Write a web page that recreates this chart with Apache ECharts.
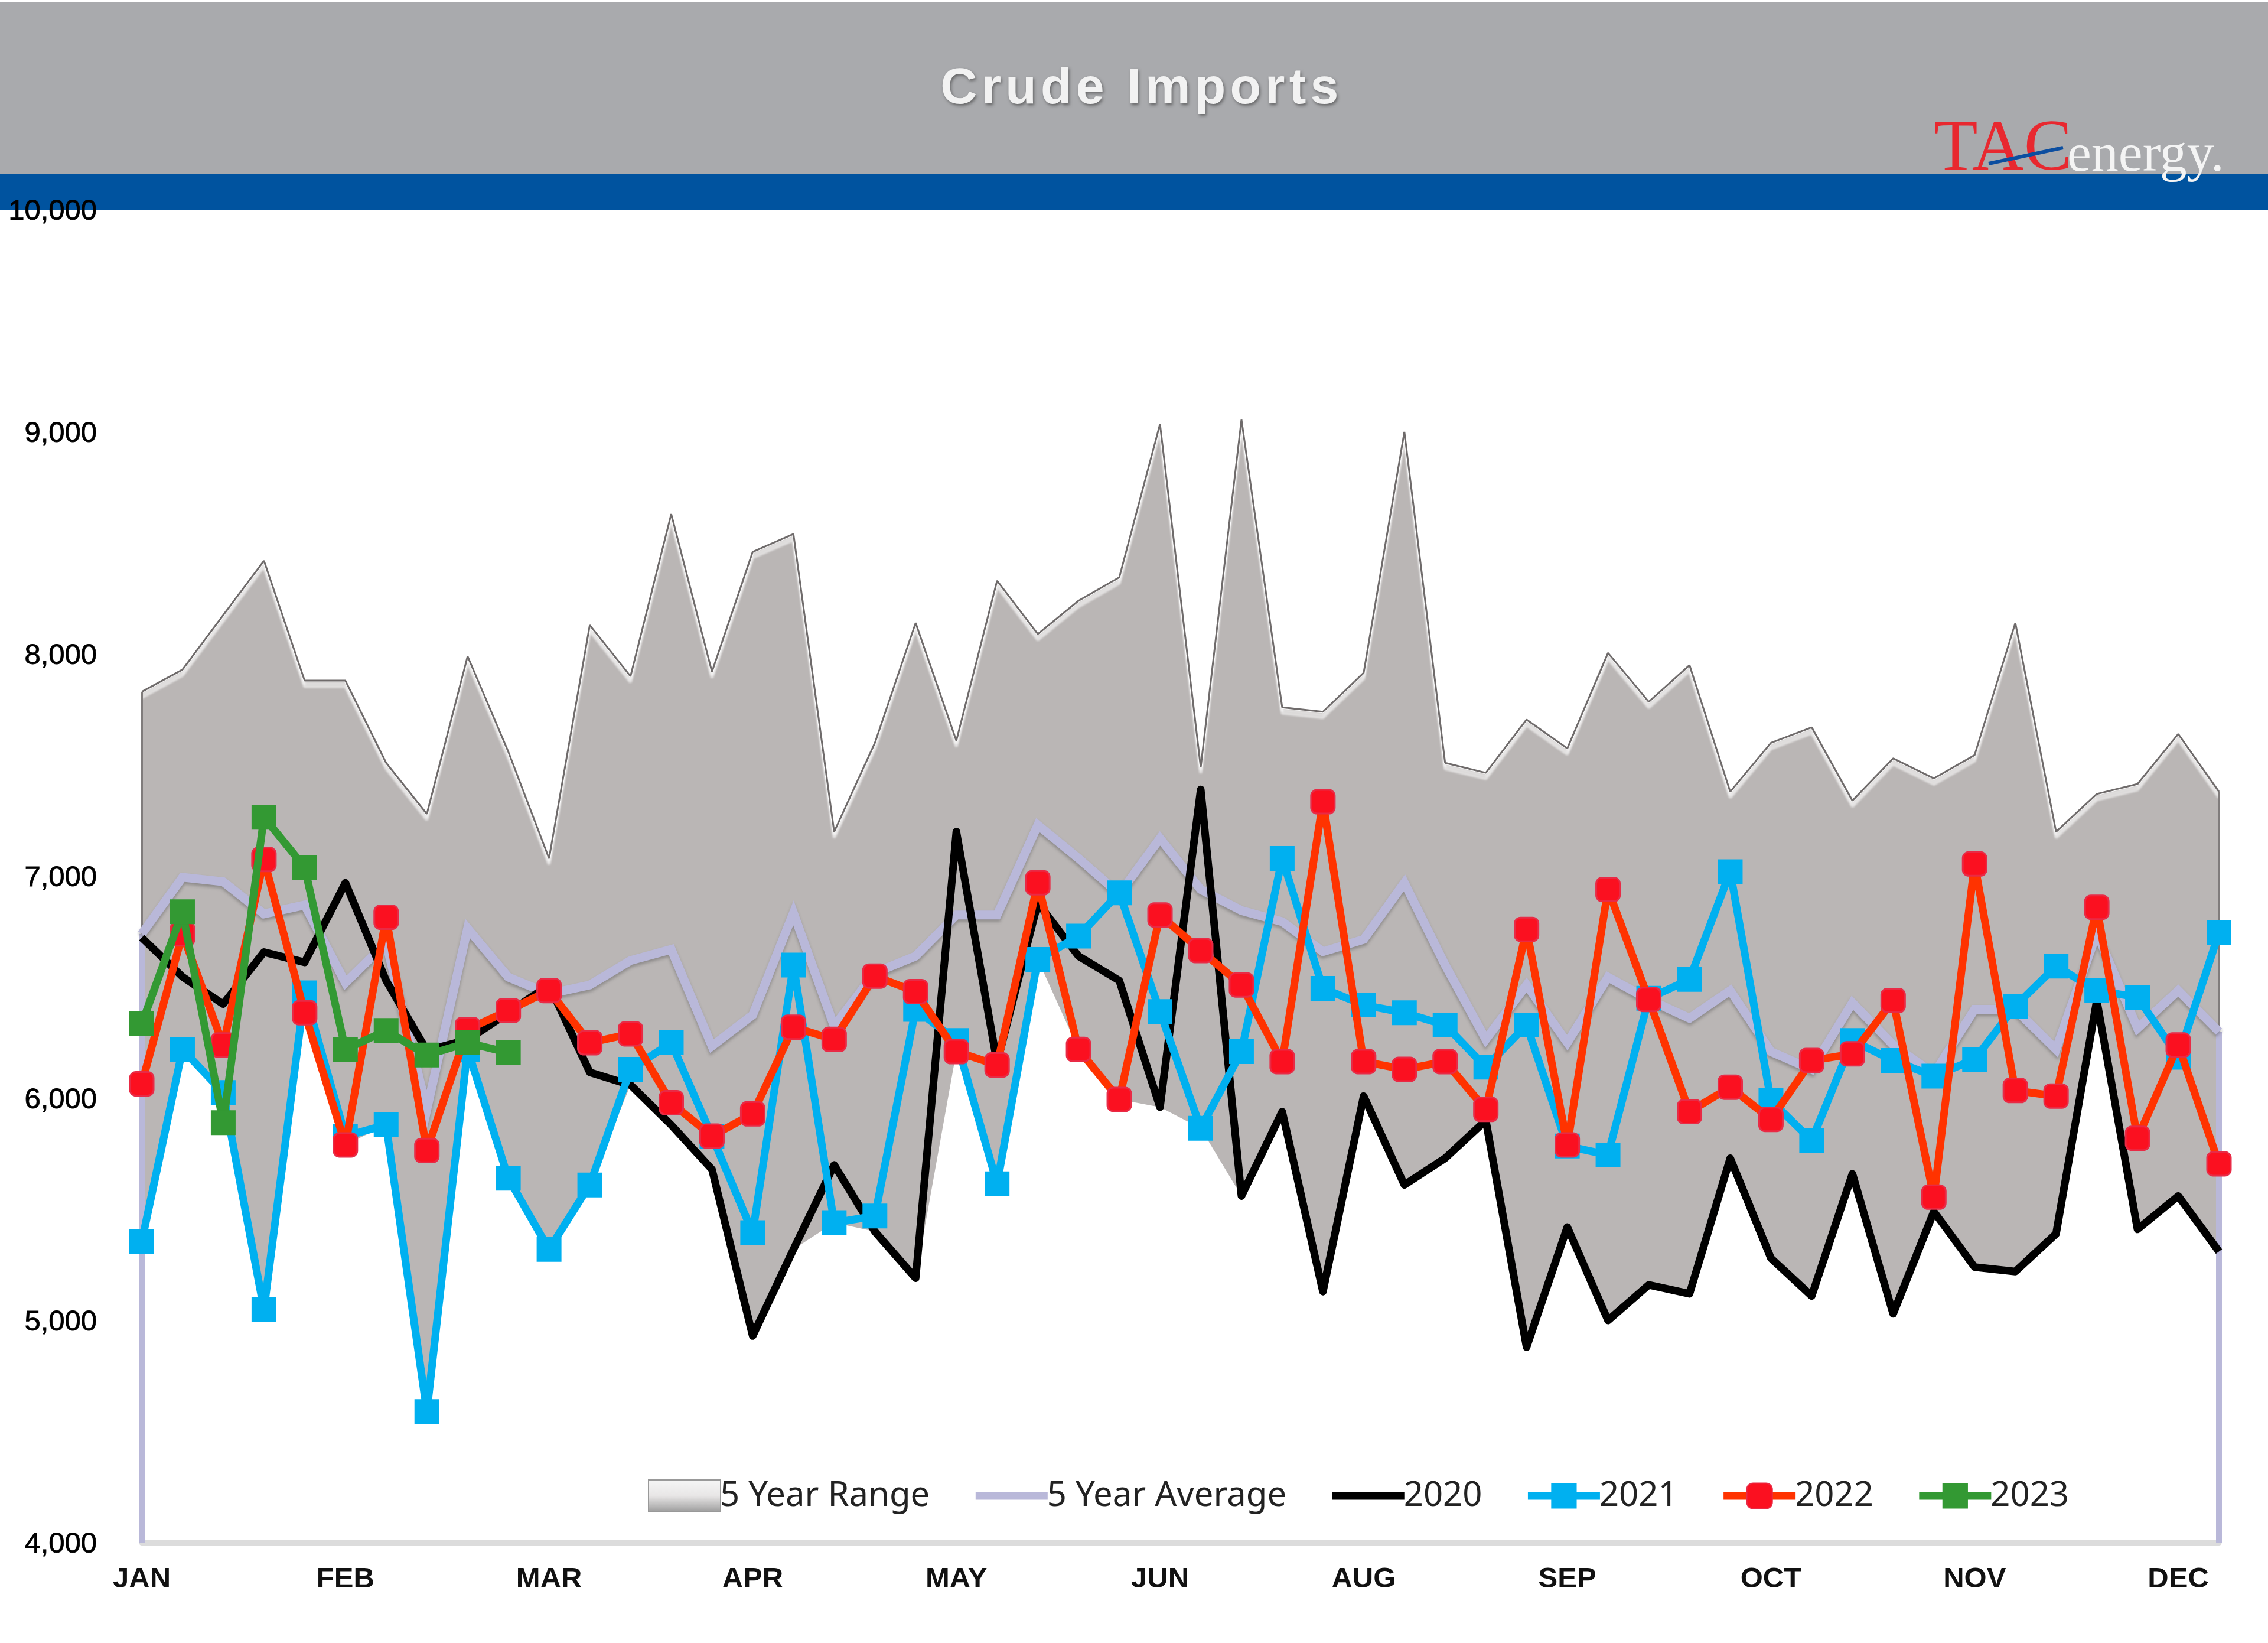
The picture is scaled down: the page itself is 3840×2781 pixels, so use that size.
<!DOCTYPE html>
<html>
<head>
<meta charset="utf-8">
<title>Crude Imports</title>
<style>
  html, body { margin: 0; padding: 0; background: #fff; }
  #wrap { position: relative; width: 3840px; height: 2781px; }
  #chart { width: 3840px; height: 2781px; }
  #head {
    position: absolute; left: 0; width: 3840px; top: 96px; text-align: center; text-indent: 26px;
    font: bold 86px "Liberation Sans"; letter-spacing: 7.2px; color: #f2f2f2;
    text-shadow: 2px 3px 5px rgba(60,60,60,.6);
  }
</style>
<script src="https://cdn.jsdelivr.net/npm/echarts@6/dist/echarts.min.js"></script>
</head>
<body>
<div id="wrap">
  <div id="chart"></div>
  <div id="head">Crude Imports</div>
</div>
<script>
// weekly labels, only every 5th week carries a month name
const months = ['JAN', 'FEB', 'MAR', 'APR', 'MAY', 'JUN', 'AUG', 'SEP', 'OCT', 'NOV', 'DEC'];
const weeks = [];
for (let i = 0; i < 52; i++) {
  weeks.push(i % 5 === 0 ? months[i / 5] : 'w' + (i + 1));
}

const rangeHigh = [7830, 7930, 8175, 8420, 7880, 7880, 7510, 7280, 7990, 7560, 7080, 8130, 7900, 8630, 7920, 8460, 8540, 7200,
  7600, 8140, 7610, 8330, 8090, 8240, 8345, 9035, 7490, 9055, 7760, 7740, 7915, 9000, 7510, 7465, 7705, 7575, 8005, 7785,
  7950, 7380, 7600, 7670, 7340, 7530, 7440, 7545, 8140, 7200, 7370, 7415, 7640, 7380];
const rangeLow = [5355, 6220, 6026, 5050, 6385, 5790, 5880, 4590, 6220, 5640, 5320, 5610, 6060, 5880, 5680, 4930, 5320, 5440,
  5400, 5190, 6210, 5615, 6625, 6220, 5995, 5960, 5865, 5560, 5940, 5130, 6010, 5610, 5730, 5900, 4880, 5420, 5000, 5160,
  5120, 5730, 5280, 5110, 5660, 5030, 5490, 5240, 5220, 5390, 6440, 5410, 5560, 5310];
const avg5y = [6740, 6995, 6975, 6830, 6870, 6520, 6700, 5950, 6765, 6545, 6470, 6510, 6620, 6670, 6235, 6375, 6835, 6325,
  6565, 6640, 6825, 6825, 7230, 7080, 6920, 7170, 6940, 6845, 6795, 6660, 6715, 6970, 6600, 6265, 6510, 6250, 6545, 6445,
  6360, 6485, 6210, 6130, 6430, 6240, 6110, 6400, 6400, 6220, 6745, 6315, 6485, 6300];
const y2020 = [6723, 6547, 6424, 6658, 6612, 6970, 6530, 6215, 6263, 6385, 6510, 6117, 6060, 5880, 5680, 4930, 5320, 5700,
  5400, 5190, 7200, 6160, 6880, 6640, 6530, 5960, 7390, 5560, 5940, 5130, 6010, 5610, 5730, 5900, 4880, 5420, 5000, 5160,
  5120, 5730, 5280, 5110, 5660, 5030, 5490, 5240, 5220, 5390, 6440, 5410, 5560, 5310];
const y2021 = [5355, 6220, 6026, 5050, 6475, 5830, 5880, 4590, 6220, 5640, 5320, 5610, 6130, 6250, 5830, 5395, 6600, 5440,
  5470, 6400, 6260, 5615, 6625, 6730, 6925, 6390, 5865, 6210, 7080, 6495, 6420, 6385, 6330, 6140, 6330, 5785, 5745, 6450,
  6535, 7020, 5990, 5810, 6260, 6170, 6100, 6175, 6415, 6595, 6485, 6455, 6185, 6745];
const y2022 = [6065, 6740, 6240, 7075, 6385, 5790, 6815, 5765, 6310, 6395, 6485, 6250, 6290, 5980, 5830, 5930, 6320, 6265,
  6550, 6480, 6210, 6150, 6970, 6220, 5995, 6825, 6665, 6510, 6165, 7335, 6165, 6130, 6165, 5950, 6760, 5790, 6940, 6445,
  5940, 6050, 5905, 6170, 6200, 6440, 5555, 7055, 6035, 6010, 6860, 5820, 6240, 5705];
const y2023 = [6335, 6840, 5890, 7265, 7040, 6220, 6305, 6195, 6250, 6205];

const yMin = 4000, yMax = 10000, yStep = 1000;
const rangeBand = rangeHigh.map((v, i) => v - rangeLow[i]);

const yearSeries = (name, data, lineColor, itemStyle, symbol, size, z) => ({
  name,
  type: 'line',
  data,
  z,
  clip: false,
  symbol,
  symbolSize: size,
  showSymbol: size > 0,
  lineStyle: { color: lineColor, width: 13, join: 'round' },
  itemStyle
});

// soft white bevel under the top edge of the range, shows only on the flatter parts
const bevel = (offset, z) => ({
  name: 'bevel' + offset,
  type: 'line',
  data: rangeHigh,
  z,
  symbol: 'none',
  lineStyle: {
    color: 'rgba(255,255,255,.6)',
    width: 5,
    shadowColor: 'rgba(255,255,255,.95)',
    shadowBlur: 3,
    shadowOffsetY: offset
  }
});

const chart = echarts.init(document.getElementById('chart'));
const last = weeks.length - 1;

chart.setOption({
  animation: false,
  backgroundColor: '#fff',
  graphic: [
    { type: 'rect', z: -10, shape: { x: 0, y: 4, width: 3840, height: 290 }, style: { fill: '#a9aaad' } },
    { type: 'rect', z: -10, shape: { x: 0, y: 294, width: 3840, height: 61 }, style: { fill: '#00539f' } },
    { type: 'text', z: 10, x: 3274, y: 316, style: { text: 'TAC', font: '122px "Liberation Serif"', fill: '#e8282f', textVerticalAlign: 'bottom' } },
    { type: 'line', z: 11, shape: { x1: 3367, y1: 277, x2: 3493, y2: 250 }, style: { stroke: '#0c4ea0', lineWidth: 6 } },
    { type: 'text', z: 10, x: 3500, y: 311, style: { text: 'energy.', font: '92px "Liberation Serif"', fill: '#f4f4f4', textVerticalAlign: 'bottom' } }
  ],
  grid: { left: 240, right: 83, top: 355, bottom: 170 },
  legend: {
    left: 1092,
    top: 2498,
    itemGap: 71,
    itemWidth: 122,
    itemHeight: 54,
    lineStyle: { width: 13 },
    textStyle: { fontFamily: 'Noto Sans', fontSize: 58, color: '#222', padding: [0, 0, 0, -6] },
    data: [
      {
        name: '5 Year Range',
        icon: 'rect',
        itemStyle: {
          borderColor: '#999',
          borderWidth: 2,
          color: { type: 'linear', x: 0, y: 0, x2: 0, y2: 1, colorStops: [
            { offset: 0, color: '#f6f6f6' }, { offset: 0.5, color: '#e8e6e6' }, { offset: 1, color: '#9b9b9b' }
          ] }
        }
      },
      { name: '5 Year Average', itemStyle: { opacity: 0 } },
      { name: '2020', itemStyle: { opacity: 0 } },
      '2021', '2022', '2023'
    ]
  },
  xAxis: {
    type: 'category',
    boundaryGap: false,
    data: weeks,
    axisLine: { lineStyle: { color: '#dcdcdc', width: 9 } },
    axisTick: { show: false },
    axisLabel: {
      interval: 4,
      margin: 38,
      fontFamily: 'Liberation Sans',
      fontWeight: 'bold',
      fontSize: 49,
      color: '#111'
    }
  },
  yAxis: {
    type: 'value',
    min: yMin,
    max: yMax,
    interval: yStep,
    axisLine: { show: false },
    axisTick: { show: false },
    splitLine: { show: false },
    axisLabel: {
      margin: 76,
      formatter: v => '{t|' + v.toLocaleString('en-US') + '}',
      rich: {
        t: {
          padding: [6, 0, 0, 0],
          fontFamily: 'Liberation Sans',
          fontSize: 49,
          color: '#000',
          textBorderColor: '#000',
          textBorderWidth: 0.8
        }
      }
    }
  },
  series: [
    {
      name: 'low',
      type: 'line',
      stack: 'range',
      data: rangeLow,
      symbol: 'none',
      lineStyle: { opacity: 0 },
      z: 1
    },
    {
      name: '5 Year Range',
      type: 'line',
      stack: 'range',
      data: rangeBand,
      symbol: 'none',
      z: 2,
      areaStyle: { color: '#bab6b5', opacity: 1 },
      lineStyle: { opacity: 0 },
      itemStyle: { color: '#bab6b5' },
      markLine: {
        silent: true,
        symbol: 'none',
        label: { show: false },
        lineStyle: { color: '#807c7c', width: 4, type: 'solid' },
        data: [
          [{ coord: [weeks[0], rangeLow[0]] }, { coord: [weeks[0], rangeHigh[0]] }],
          [{ coord: [weeks[last], rangeLow[last]] }, { coord: [weeks[last], rangeHigh[last]] }]
        ]
      }
    },
    bevel(5, 3),
    bevel(10, 3),
    {
      name: 'edge',
      type: 'line',
      data: rangeHigh,
      z: 4,
      symbol: 'none',
      lineStyle: { color: '#6f6b6b', width: 3 }
    },
    {
      name: '5 Year Average',
      type: 'line',
      data: avg5y,
      z: 5,
      symbol: 'none',
      itemStyle: { color: '#b9b8d9' },
      lineStyle: {
        color: '#b9b8d9',
        width: 15,
        join: 'miter',
        shadowColor: 'rgba(60,60,60,.35)',
        shadowBlur: 5,
        shadowOffsetY: 4
      },
      // the average drops to the axis at both ends of the year
      markLine: {
        silent: true,
        symbol: 'none',
        label: { show: false },
        lineStyle: { color: '#b9b8d9', width: 10, type: 'solid' },
        data: [
          [{ coord: [weeks[0], yMin] }, { coord: [weeks[0], avg5y[0]] }],
          [{ coord: [weeks[last], yMin] }, { coord: [weeks[last], avg5y[last]] }]
        ]
      }
    },
    yearSeries('2020', y2020, '#000000', { color: '#000000' }, 'none', 0, 6),
    yearSeries('2021', y2021, '#00b0f0', { color: '#00b0f0' }, 'rect', 42, 7),
    yearSeries('2022', y2022, '#ff3300', { color: '#fb1020', borderColor: '#e92a45', borderWidth: 3 }, 'roundRect', 40, 8),
    yearSeries('2023', y2023, '#339933', { color: '#339933' }, 'rect', 42, 9)
  ]
});
</script>
</body>
</html>
